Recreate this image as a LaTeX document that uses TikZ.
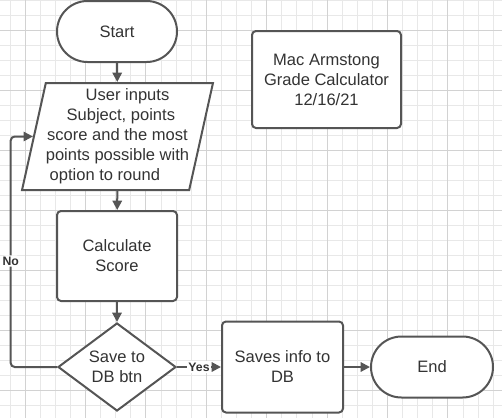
\documentclass[tikz,border=0pt]{standalone}
\usepackage{fontspec}
\setmainfont{Liberation Sans}
\usetikzlibrary{shapes.geometric,shapes.misc,arrows.meta}

\definecolor{lineGray}{RGB}{85,85,85}
\definecolor{textGray}{RGB}{51,51,51}
\definecolor{gridMinor}{RGB}{232,232,232}
\definecolor{gridMajor}{RGB}{210,210,210}

\tikzset{
  base/.style={draw=lineGray, line width=1.5pt, fill=white, text=textGray, align=center, inner sep=0pt, font=\fontsize{12.4}{15}\selectfont},
  terminal/.style={base, rounded rectangle, minimum width=90pt, minimum height=45.75pt},
  process/.style={base, rectangle, rounded corners=3pt},
  io/.style={base, trapezium, trapezium left angle=76, trapezium right angle=104, trapezium stretches=true, minimum width=133.5pt, minimum height=80.25pt},
  decision/.style={base, diamond, minimum width=88.5pt, minimum height=66pt},
  flow/.style={draw=lineGray, line width=1.5pt, -{Triangle[length=7pt,width=7pt]}},
  choice/.style={fill=white, text=textGray, inner sep=1pt, font=\fontsize{9.2}{11}\selectfont\bfseries},
}

\begin{document}
\begin{tikzpicture}[x=0.75pt,y=0.75pt,yscale=-1]
\useasboundingbox (0,0) rectangle (502,418);
\fill[white] (0,0) rectangle (502,418);

% grid paper
\foreach \i in {-1,...,32} \draw[gridMinor, line width=0.5pt] ({25+15.1*\i},0) -- ++(0,418);
\foreach \j in {0,...,27} \draw[gridMinor, line width=0.5pt] (0,{0.7+15*\j}) -- ++(502,0);
\foreach \i in {0,...,7} \draw[gridMajor, line width=0.6pt] ({25+60.4*\i},0) -- ++(0,418);
\foreach \j in {0,...,6} \draw[gridMajor, line width=0.6pt] (0,{30.7+60*\j}) -- ++(502,0);

% shapes
\node[terminal] (start) at (117,31.5) {Start};
\node[io] (input) at (117.5,136.5) {\hspace*{15pt}User inputs\\ \hspace*{5pt}Subject, points\\ score and the most\\ points possible with\hspace*{10pt}\\ option to round\hspace*{19pt}};
\node[process, minimum width=90pt, minimum height=67.5pt] (calc) at (117,256) {Calculate\\ Score};
\node[decision] (decide) at (117,367) {Save to\\ DB btn};
\node[process, minimum width=90.75pt, minimum height=68.25pt] (save) at (282.5,367) {Saves info to\\ DB};
\node[terminal, minimum width=91.5pt] (end) at (432,367) {End};
\node[process, minimum width=111.75pt, minimum height=72.75pt] (title) at (326.5,79.5) {Mac Armstong\\ Grade Calculator\\ 12/16/21};

% connectors
\coordinate (loopX) at (10.7,0);
\draw[flow] (start) -- (input);
\draw[flow] (input) -- (calc);
\draw[flow] (calc) -- (decide);
\draw[flow] (decide) -- node[choice]{Yes} (save);
\draw[flow] (save) -- (end);
\draw[flow, rounded corners=3pt] (decide.west) -- (decide.west -| loopX) -- node[choice, pos=0.46]{No} (input.left side -| loopX) -- (input.left side);

\end{tikzpicture}
\end{document}
